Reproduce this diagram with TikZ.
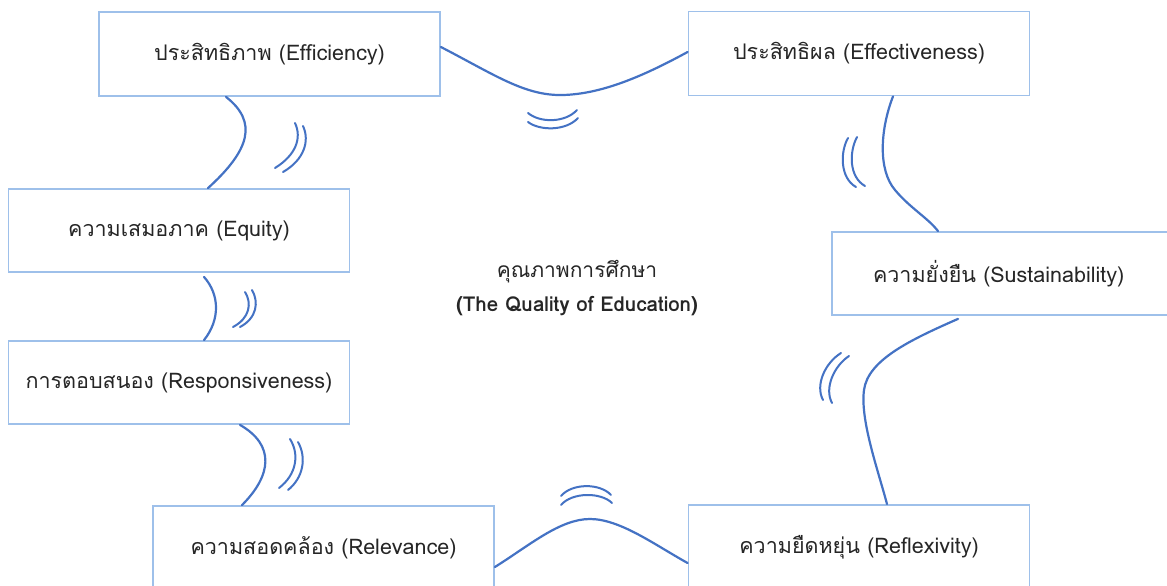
\documentclass[tikz,border=0pt]{standalone}
\usepackage{fontspec}
\usetikzlibrary{calc}
\newfontfamily\thaifont[Script=Thai]{Loma}
\definecolor{boxline}{RGB}{158,192,234}
\definecolor{connline}{RGB}{68,114,196}
\tikzset{
  box/.style={draw=boxline, line width=1.8pt, minimum width=341pt, minimum height=84pt, inner sep=0pt, font=\thaifont\fontsize{21.5}{24}\selectfont, text=black!85},
  conn/.style={draw=connline, line width=2.2pt, line cap=round},
  wave/.style={draw=connline, line width=2pt, line cap=round}
}
\begin{document}
\begin{tikzpicture}[x=1pt,y=-1pt]
\clip (0,0) rectangle (1167,586);
\fill[white] (0,0) rectangle (1167,586);
\node[box] (eff) at (269.5,54) {\raisebox{1.5pt}{ประสิทธิภาพ (Efficiency)}};
\node[box] (effv) at (859,53.5) {\raisebox{1.5pt}{ประสิทธิผล (Effectiveness)}};
\node[box, minimum height=83pt] (equ) at (179,230.5) {ความเสมอภาค (Equity)};
\node[box, minimum width=340pt, minimum height=83pt, text width=336pt, align=left] (sus) at (1002,273.5) {\hspace*{39pt}ความยั่งยืน (Sustainability)};
\node[box, minimum height=83pt] (res) at (179,382.5) {การตอบสนอง (Responsiveness)};
\node[box] (rel) at (323.5,548) {\raisebox{2pt}{ความสอดคล้อง (Relevance)}};
\node[box] (refl) at (859,547) {\raisebox{2pt}{ความยืดหยุ่น (Reflexivity)}};
\node[font=\thaifont\fontsize{21}{24}\selectfont, text=black!85] (qt) at (577,272) {คุณภาพการศึกษา};
\node[font=\thaifont\bfseries\fontsize{20.5}{24}\selectfont, text=black!85] (qe) at (577,306) {(The Quality of Education)};
% connectors
\draw[conn] ([yshift=7pt]eff.east) .. controls (495,75) and (525,96) .. (563,95) .. controls (600,94) and (640,78) .. ([yshift=1.5pt]effv.west);
\draw[conn] ([xshift=-43.5pt]eff.south) .. controls (258,122) and (250,150) .. ([xshift=29pt]equ.north);
\draw[conn] ([xshift=34pt]effv.south) .. controls (880,130) and (878,170) .. (895,190) .. controls (910,208) and (928,218) .. ([xshift=-64pt]sus.north);
\draw[conn] ([xshift=-44pt,yshift=-3pt]sus.south) .. controls (910,340) and (868,360) .. (864,390) .. controls (860,420) and (878,470) .. ([xshift=28pt]refl.north);
\draw[conn] ([yshift=-19pt]rel.east) .. controls (530,545) and (560,519) .. (590,519) .. controls (620,519) and (655,545) .. ([yshift=-16pt]refl.west);
\draw[conn] ([xshift=61pt]res.south) .. controls (275,445) and (272,475) .. ([xshift=-81.5pt]rel.north);
\draw[conn] ([xshift=25pt,yshift=-4pt]equ.south) .. controls (220,295) and (220,320) .. ([xshift=25pt]res.north);
% waves
\draw[wave] (528,113) .. controls (540,123) and (565,123) .. (577,110);
\draw[wave] (528,122) .. controls (540,131) and (566,131) .. (578,118);
\draw[wave] (295,123) .. controls (302,138) and (296,155) .. (275,168);
\draw[wave] (303,126) .. controls (310,141) and (304,160) .. (283,172);
\draw[wave] (848,138) .. controls (840,152) and (840,178) .. (856,187);
\draw[wave] (857,137) .. controls (849,152) and (849,177) .. (865,186);
\draw[wave] (841,353) .. controls (825,363) and (815,385) .. (823,400);
\draw[wave] (849,356) .. controls (834,366) and (824,388) .. (832,403);
\draw[wave] (561,496) .. controls (572,483) and (600,483) .. (611,495);
\draw[wave] (561,505) .. controls (572,492) and (601,492) .. (612,503);
\draw[wave] (290,439) .. controls (300,455) and (296,475) .. (279,488);
\draw[wave] (298,442) .. controls (307,458) and (303,478) .. (288,490);
\draw[wave] (245,292) .. controls (252,303) and (250,318) .. (233,327);
\draw[wave] (252,290) .. controls (259,302) and (257,318) .. (240,327);
\end{tikzpicture}
\end{document}
